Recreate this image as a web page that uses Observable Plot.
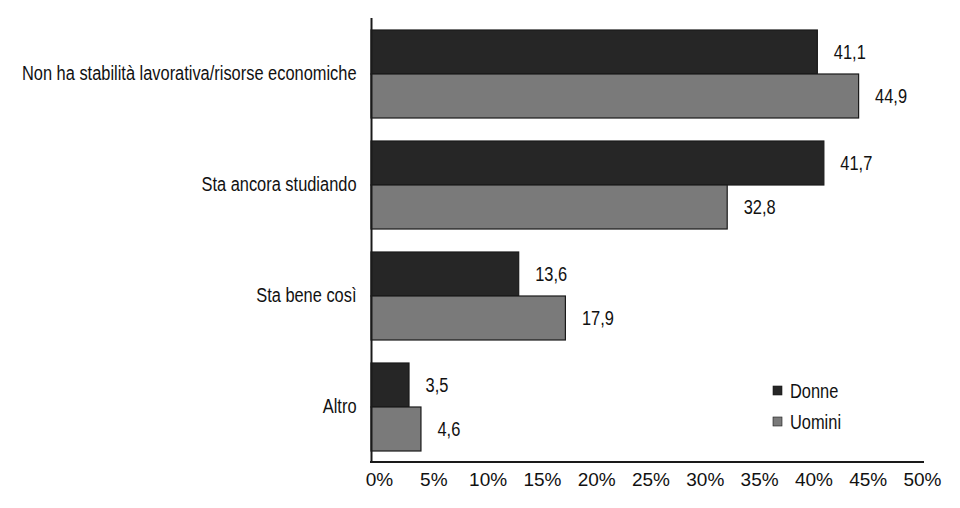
<!DOCTYPE html>
<html>
<head>
<meta charset="utf-8">
<script src="https://cdn.jsdelivr.net/npm/d3@7"></script>
<script src="https://cdn.jsdelivr.net/npm/@observablehq/plot@0.6"></script>
<style>
  html, body { margin: 0; padding: 0; background: #ffffff; }
  #chart { width: 960px; height: 508px; overflow: hidden; }
</style>
</head>
<body>
<div id="chart"></div>
<script>
// ---- data ----
const categories = [
  "Non ha stabilità lavorativa/risorse economiche",
  "Sta ancora studiando",
  "Sta bene così",
  "Altro"
];
const seriesNames = ["Donne", "Uomini"];
const donne = [41.1, 41.7, 13.6, 3.5];
const uomini = [44.9, 32.8, 17.9, 4.6];
const xTicks = [0, 5, 10, 15, 20, 25, 30, 35, 40, 45, 50];
const seriesColors = ["#262626", "#7a7a7a"];

const labelFont = '"Liberation Sans", Arial, sans-serif';
const labelSize = 20;     // rendered condensed (Arial Narrow look)
const condense = 0.82;

const rows = [];
categories.forEach((c, i) => {
  rows.push({category: c, series: seriesNames[0], value: donne[i]});
  rows.push({category: c, series: seriesNames[1], value: uomini[i]});
});
const fmt = v => v.toFixed(1).replace(".", ",");

const W = 960, H = 508;
const plot = Plot.plot({
  width: W,
  height: H,
  marginLeft: 371,
  marginRight: 46,
  marginTop: 17,
  marginBottom: 46,
  style: {fontFamily: labelFont, fontSize: labelSize + "px", background: "#ffffff", color: "#111"},
  facet: {data: rows, y: "category"},
  fy: {domain: categories, padding: 0, label: null, axis: "left", tickSize: 0, tickPadding: 15},
  y: {domain: seriesNames, paddingInner: 0, paddingOuter: 0.24, axis: null},
  x: {domain: [0, 50], ticks: xTicks, tickFormat: d => d + "%", tickSize: 0, tickPadding: 10, label: null},
  color: {domain: seriesNames, range: seriesColors},
  marks: [
    Plot.barX(rows, {x: "value", y: "series", fill: "series", stroke: "#1a1a1a", strokeWidth: 1.2}),
    Plot.text(rows, {x: "value", y: "series", text: d => fmt(d.value), dx: 16, textAnchor: "start", fill: "#111", fontSize: labelSize}),
    Plot.ruleX([0], {stroke: "#1a1a1a", strokeWidth: 2})
  ]
});
document.getElementById("chart").appendChild(plot);

// ---- post-process: axis styling, x-axis line, legend ----
const svg = d3.select(plot);
const xs = plot.scale("x");
const x0 = xs.apply(0), x1 = xs.apply(50);
const yBottom = H - 46;

svg.selectAll("g[aria-label^='x-axis']").attr("font-size", 19).attr("font-family", labelFont);
svg.selectAll("g[aria-label^='x-axis'] text")
  .attr("font-size", 19)
  .style("font-size", "19px")
  .attr("dx", 8);
svg.selectAll("g[aria-label^='fy-axis']").attr("font-size", labelSize).attr("fill", "#111");
svg.selectAll("g[aria-label^='fy-axis'] text").attr("font-size", labelSize).style("font-size", labelSize + "px");

svg.append("line")
  .attr("x1", x0 - 1).attr("x2", x1 + 10)
  .attr("y1", yBottom).attr("y2", yBottom)
  .attr("stroke", "#1a1a1a").attr("stroke-width", 2);

const lg = svg.append("g").attr("font-family", labelFont).attr("font-size", labelSize).attr("text-anchor", "start");
seriesNames.forEach((s, i) => {
  const cy = 391 + i * 31;
  lg.append("rect").attr("x", 773).attr("y", cy - 5).attr("width", 9).attr("height", 9)
    .attr("fill", seriesColors[i]).attr("stroke", "#1a1a1a").attr("stroke-width", 0.6);
  lg.append("text").attr("class", "narrow").attr("x", 790).attr("y", cy).attr("dy", "0.35em")
    .attr("text-anchor", "start").attr("fill", "#111").text(s);
});

// condensed look: compress glyphs of the label texts (not the x tick labels)
function squeeze(sel) {
  sel.each(function() {
    const len = this.getComputedTextLength();
    if (len > 0) {
      this.setAttribute("textLength", (len * condense).toFixed(2));
      this.setAttribute("lengthAdjust", "spacingAndGlyphs");
    }
  });
}
squeeze(svg.selectAll("g[aria-label^='fy-axis'] text"));
squeeze(svg.selectAll("g[aria-label='text'] text"));
squeeze(lg.selectAll("text"));
</script>
</body>
</html>
